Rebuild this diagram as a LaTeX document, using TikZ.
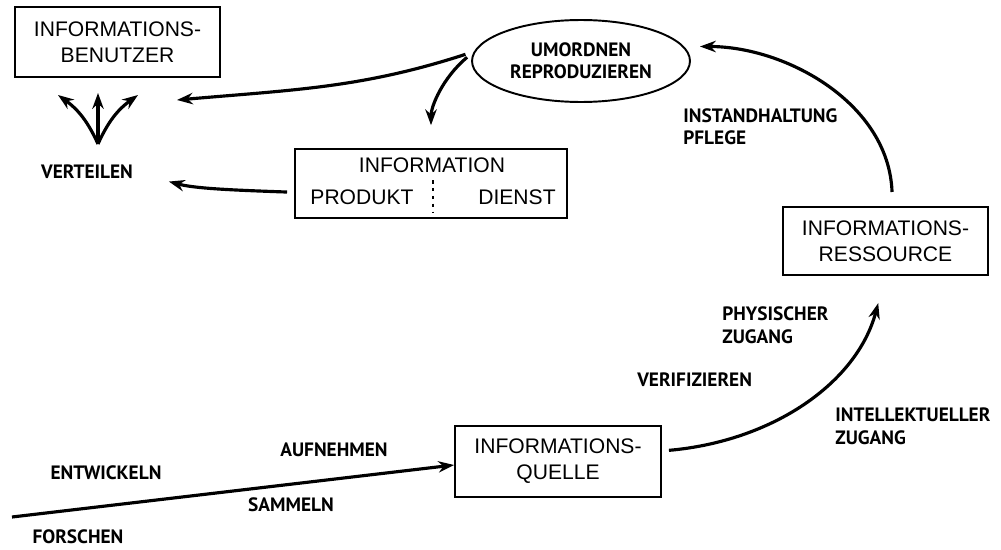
\documentclass[tikz,border=0pt]{standalone}
\usepackage{fontspec}
\setmainfont{Liberation Sans}
\newfontfamily\labelfont{PT Sans}
\usepackage{tikz}
\usetikzlibrary{positioning,arrows.meta,shapes.geometric,calc}

\begin{document}
\begin{tikzpicture}[x=0.02cm, y=0.02cm,
  infobox/.style={draw, line width=1.1pt, align=center, inner sep=0pt,
    font=\fontsize{12}{14.7}\selectfont},
  lbl/.style={font=\labelfont\bfseries\fontsize{11}{12.8}\selectfont, align=left, inner sep=0pt},
  arr/.style={line width=1.8pt, -{Stealth[length=9pt,width=6.5pt]}}]
\useasboundingbox (0,0) rectangle (1001,549);

% Boxes
\node[infobox, minimum width=4.1cm, minimum height=1.4cm] (benutzer) at (117.5,507) {INFORMATIONS-\\BENUTZER};
\node[infobox, minimum width=5.44cm, minimum height=1.38cm] (info) at (431,365.5) {};
\node[infobox, minimum width=4.1cm, minimum height=1.36cm] (ressource) at (885.5,308) {INFORMATIONS-\\RESSOURCE};
\node[infobox, minimum width=4.12cm, minimum height=1.42cm] (quelle) at (558,87.5) {INFORMATIONS-\\QUELLE};
\node[ellipse, draw, line width=1.1pt, minimum width=4.36cm, minimum height=1.64cm, inner sep=0pt,
  font=\labelfont\bfseries\fontsize{11}{12.6}\selectfont, align=center] (umordnen) at (581,488) {UMORDNEN\\REPRODUZIEREN};

% Inside the information box
\node[font=\fontsize{12}{14.7}\selectfont] (infotitle) at (432,384) {INFORMATION};
\node[font=\fontsize{12}{14.7}\selectfont] (produkt) at (362,352) {PRODUKT};
\node[font=\fontsize{12}{14.7}\selectfont] (dienst) at (517,352) {DIENST};
\draw[line width=0.9pt, dash pattern=on 2pt off 2.5pt] (433,369) -- (433,336);

% Labels
\node[lbl] (verteilen) at (87,377) {VERTEILEN};
\node[lbl, anchor=west] (instand) at (683,422.5) {INSTANDHALTUNG\\PFLEGE};
\node[lbl, anchor=west] (physisch) at (722,224) {PHYSISCHER\\ZUGANG};
\node[lbl, anchor=west] (verifiz) at (637,169) {VERIFIZIEREN};
\node[lbl, anchor=west] (intellekt) at (835,122.5) {INTELLEKTUELLER\\ZUGANG};
\node[lbl] (aufnehmen) at (334,99) {AUFNEHMEN};
\node[lbl] (entwickeln) at (106,76) {ENTWICKELN};
\node[lbl] (sammeln) at (291,44) {SAMMELN};
\node[lbl] (forschen) at (78,12) {FORSCHEN};

% Fan of arrows to the users
\coordinate (fan) at (98,405);
\coordinate (fanl) at (58,454);
\coordinate (fanm) at (98,456);
\coordinate (fanr) at (138,454);
\draw[arr] (fan) to[bend right=15] (fanl);
\draw[arr] (fan) -- (fanm);
\draw[arr] (fan) to[bend left=15] (fanr);

% Cycle
\coordinate (forschenstart) at (12,32);
\coordinate (tobenutzer) at (177,449);
\draw[arr] (forschenstart) -- ([yshift=-2pt]quelle.west);
\draw[arr, shorten <=4pt, shorten >=16pt] ([yshift=6pt]quelle.east) to[out=5, in=-105] (ressource.south);
\draw[arr, shorten <=8pt, shorten >=9pt] ([xshift=4pt]ressource.north) to[out=92, in=0] (umordnen.8);
\draw[arr, shorten <=5pt] (umordnen.175) to[out=198, in=5] (tobenutzer);
\draw[arr, shorten <=5pt, shorten >=13pt] (umordnen.175) to[out=220, in=90] (info.north);
\draw[arr, shorten <=4pt, shorten >=21pt] ([yshift=-5pt]info.west) to[out=178, in=-15] (verteilen.east);
\end{tikzpicture}
\end{document}
